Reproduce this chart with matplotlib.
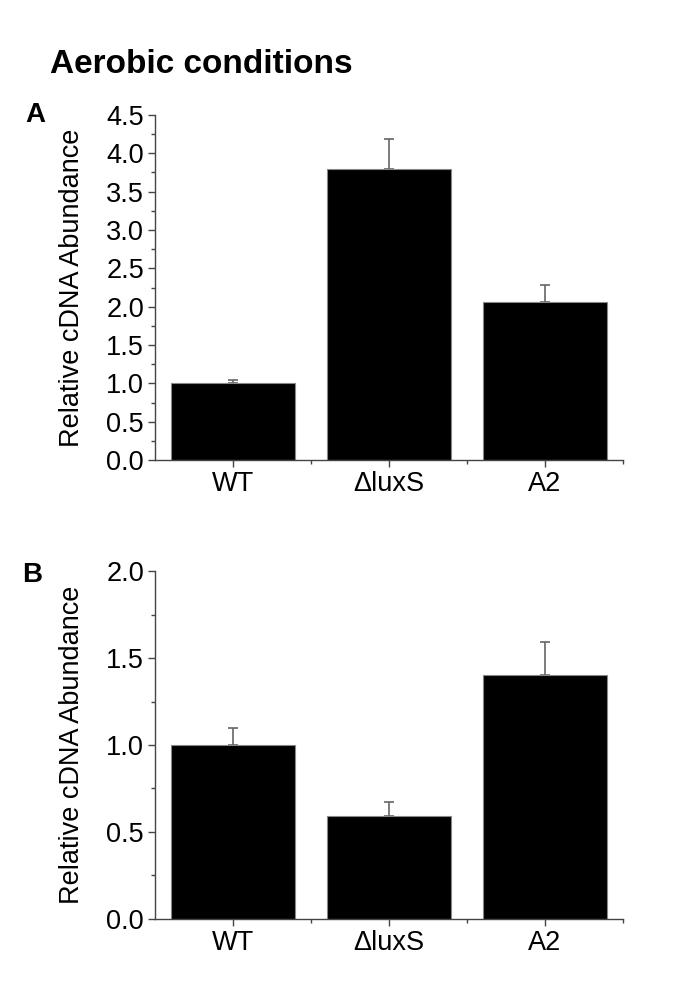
import matplotlib
matplotlib.use('Agg')
import matplotlib.pyplot as plt
from matplotlib.ticker import MultipleLocator

plt.rcParams['font.family'] = ['Liberation Sans', 'DejaVu Sans']

strains = ['WT', '\u0394luxS', 'A2']

# panel A
vals_a = [1.0, 3.79, 2.06]
err_a = [0.05, 0.40, 0.22]

# panel B
vals_b = [1.0, 0.59, 1.40]
err_b = [0.10, 0.08, 0.19]

fig = plt.figure(figsize=(6.85, 9.99), dpi=100)
ax_a = fig.add_axes([0.2263, 0.5395, 0.6832, 0.3454])
ax_b = fig.add_axes([0.2263, 0.0801, 0.6832, 0.3483])


def draw_panel(ax, vals, errs, ymax, major):
    x = range(len(strains))
    ax.bar(x, vals, width=0.8, color='black', edgecolor='#888888', linewidth=0.8, zorder=2)
    ax.errorbar(x, vals, yerr=[[0] * len(errs), errs], fmt='none', ecolor='#666666',
                elinewidth=1.2, capsize=3.5, capthick=1.2, zorder=1)
    ax.set_xlim(-0.5, 2.5)
    ax.set_ylim(0, ymax)
    ax.set_xticks(list(x))
    ax.set_xticklabels(strains)
    # minor x ticks between bars
    ax.set_xticks([0.5, 1.5, 2.5], minor=True)
    ax.yaxis.set_major_locator(MultipleLocator(major))
    ax.yaxis.set_minor_locator(MultipleLocator(major / 2))
    ax.yaxis.set_major_formatter(plt.FormatStrFormatter('%.1f'))
    for s in ['top', 'right']:
        ax.spines[s].set_visible(False)
    for s in ['left', 'bottom']:
        ax.spines[s].set_color('#444444')
        ax.spines[s].set_linewidth(1.0)
    ax.tick_params(axis='both', which='major', labelsize=19.5, length=5, width=1.0,
                   color='#444444', direction='out', pad=3)
    ax.tick_params(axis='both', which='minor', length=3, width=1.0, color='#444444', direction='out')
    ax.set_ylabel('Relative cDNA Abundance', fontsize=19.5)
    ax.yaxis.set_label_coords(-0.149, 0.5)


draw_panel(ax_a, vals_a, err_a, 4.5, 0.5)
draw_panel(ax_b, vals_b, err_b, 2.0, 0.5)

fig.text(0.073, 0.927, 'Aerobic conditions', fontsize=24, fontweight='bold', va='baseline')
fig.text(0.037, 0.878, 'A', fontsize=20, fontweight='bold', va='baseline')
fig.text(0.032, 0.417, 'B', fontsize=20, fontweight='bold', va='baseline')

fig.savefig('out.png', dpi=100)
